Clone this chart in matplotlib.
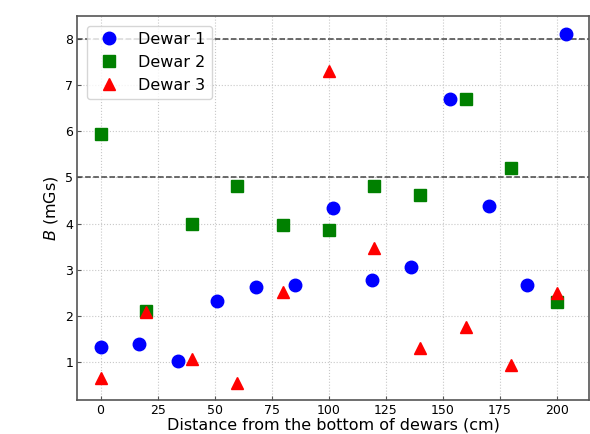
import matplotlib.pyplot as plt

# Dewar 1 positions and field
x1 = [0, 17, 34, 51, 68, 85, 102, 119, 136, 153, 170, 187, 204]
b1 = [1.33, 1.39, 1.03, 2.32, 2.63, 2.66, 4.33, 2.77, 3.05, 6.70, 4.38, 2.66, 8.12]

# Dewar 2 and Dewar 3 share positions
x23 = [0, 20, 40, 60, 80, 100, 120, 140, 160, 180, 200]
b2 = [5.95, 2.10, 4.00, 4.81, 3.96, 3.86, 4.82, 4.61, 6.71, 5.21, 2.29]
b3 = [0.65, 2.08, 1.07, 0.55, 2.51, 7.31, 3.48, 1.30, 1.75, 0.94, 2.49]

limits = [5, 8]

fig = plt.figure(figsize=(5.9, 4.34), dpi=100)
ax = fig.add_axes([0.131, 0.078, 0.868, 0.885])

ax.plot(x1, b1, 'o', color='blue', markersize=9, label='Dewar 1', zorder=3)
ax.plot(x23, b2, 's', color='green', markersize=8.5, label='Dewar 2', zorder=3)
ax.plot(x23, b3, '^', color='red', markersize=9, label='Dewar 3', zorder=3)

for lim in limits:
    ax.axhline(lim, color='#444444', linestyle='--', linewidth=1.1, zorder=2)

ax.grid(True, linestyle=':', color='#c8c8c8', linewidth=0.8)
ax.tick_params(direction='in', labelsize=9, length=3, pad=3, color='#555555')
for s in ax.spines.values():
    s.set_color('#555555')
    s.set_linewidth(1.2)

ax.set_xticks([0, 25, 50, 75, 100, 125, 150, 175, 200])
ax.set_xlabel('Distance from the bottom of dewars (cm)', fontsize=11.5, labelpad=0)
ax.set_ylabel('$B$ (mGs)', fontsize=11.5, labelpad=4)
ax.legend(loc='upper left', fontsize=11.5, borderaxespad=0.6)

fig.savefig('out.png', dpi=100)
